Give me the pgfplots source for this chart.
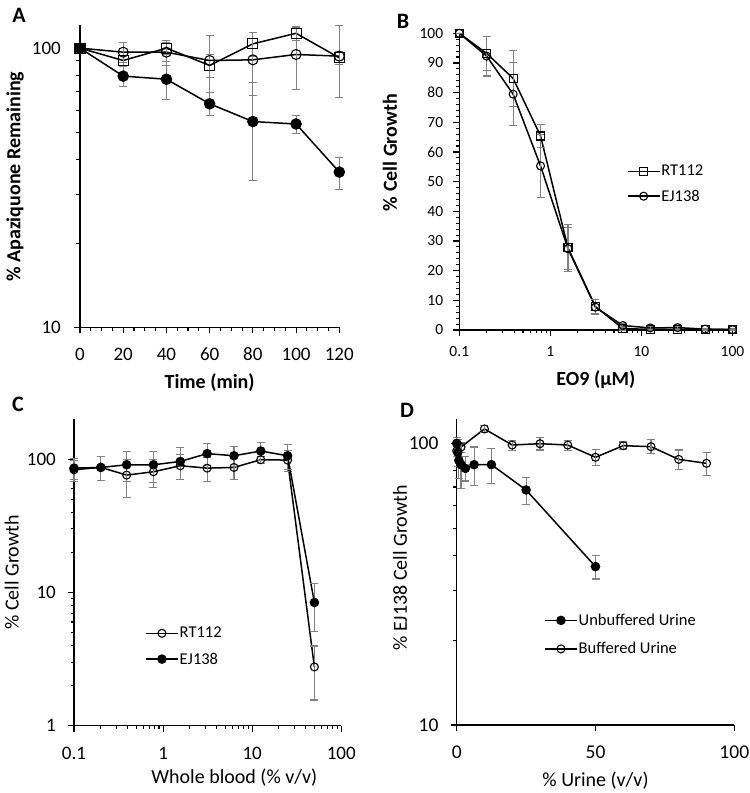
\documentclass[border=0pt]{standalone}
\usepackage{pgfplots}
\pgfplotsset{compat=1.18}
\usepackage{pgfplotstable}
\usepackage{fontspec}
\setmainfont{Carlito}
\definecolor{errgray}{RGB}{128,128,128}

% ---------------- Panel A ----------------
\pgfplotstableread{
x y e
0 100 0
20 90.3 4
40 100 5
60 86.7 8
80 103.6 10
100 113 6.5
120 92.3 5
}\Asq
\pgfplotstableread{
x y e
0 100 0
20 96.7 8
40 96.7 10
60 90.3 21
80 90.8 23
100 94.9 24
120 93.6 27
}\Aoc
\pgfplotstableread{
x y e
0 100 0
20 79.4 6.5
40 77.4 12
60 63.2 6
80 54.6 21
100 53.5 4
120 36 4.7
}\Afc
% ---------------- Panel B ----------------
\pgfplotstableread{
x y e
0.1 100 0
0.2 93.2 5.7
0.39 84.8 9.5
0.78 65.4 4
1.56 27.7 8
3.125 7.9 2.5
6.25 0.5 0.5
12.5 0.2 0.3
25 0.2 0.3
50 0.2 0.2
100 0.2 0.2
}\Bsq
\pgfplotstableread{
x y e
0.1 100 0
0.2 92.3 6.7
0.39 79.5 10.6
0.78 55.3 10.7
1.56 27.4 7
3.125 7.7 2.5
6.25 1.5 0.8
12.5 0.7 0.5
25 0.8 0.5
50 0.3 0.3
100 0.1 0.2
}\Bci
% ---------------- Panel C ----------------
\pgfplotstableread{
x y e
0.1 83.2 15
0.2 86.7 18
0.39 75.9 24
0.78 80.4 19
1.56 89.2 19
3.125 85.6 18
6.25 86.6 16
12.5 99 6
25 98.3 17
50 2.76 1.2
}\Crt
\pgfplotstableread{
x y e
0.1 85.6 15
0.2 86.6 18
0.39 90.7 23
0.78 90.7 24
1.56 96 26
3.125 110 21
6.25 106 18
12.5 115 18
25 106 23
50 8.4 3.3
}\Cej
% ---------------- Panel D ----------------
\pgfplotstableread{
x y e
0 100 5
0.39 93 10
0.78 87 12
1.56 84 15
3.125 81.5 8
6.25 84 13
12.5 84 12
25 68.3 7.5
50 36.5 3.5
}\Dun
\pgfplotstableread{
x y e
0 94 4
1.56 97 4
10 112.5 3
20 98.6 4
30 99.7 5
40 98.6 4
50 89.2 6
60 98.1 3
70 97.3 5.5
80 87.7 7
90 84.9 8
}\Dbu

\pgfplotsset{
  panel/.style={
    scale only axis, anchor=south west, clip=false,
    axis lines=left, axis line style={-, line width=1.5pt, black},
    tick align=outside,
    tick style={black, line width=1.1pt},
    major tick length=6pt, minor tick length=3.5pt,
    /pgf/number format/assume math mode=true,
    ticklabel style={inner sep=0pt},
    legend cell align=left,
    legend image code/.code={\draw[mark repeat=2,mark phase=2,##1] plot coordinates {(0pt,0pt) (16pt,0pt) (32pt,0pt)};},
  },
  ser/.style={black, line width=1.5pt, mark options={solid, line width=1.1pt, black}},
  eb/.style={error bars/y dir=both, error bars/y explicit,
    error bars/error mark=-,
    error bars/error bar style={errgray, line width=1.1pt},
    error bars/error mark options={rotate=90, errgray, line width=1.1pt, mark size=4pt}},
}

\begin{document}
\begin{tikzpicture}
\useasboundingbox (0pt,0pt) rectangle (750pt,793pt);

% Panel letters
\node[font=\bfseries\fontsize{22}{22}\selectfont] at (19pt,778pt) {A};
\node[font=\bfseries\fontsize{22}{22}\selectfont] at (403pt,771.3pt) {B};
\node[font=\bfseries\fontsize{22}{22}\selectfont] at (18pt,389pt) {C};
\node[font=\bfseries\fontsize{22}{22}\selectfont] at (407pt,383pt) {D};

% ---------------- A ----------------
\begin{axis}[panel,
  at={(80pt,465.5pt)}, width=259.3pt, height=302.5pt,
  xmin=0, xmax=120, ymode=log, ymin=10, ymax=121,
  xtick={0,20,...,120}, minor x tick num=3,
  ytick={10,100}, yticklabels={10,100},
  minor ytick={20,30,40,50,60,70,80,90},
  ticklabel style={font=\fontsize{19}{19}\selectfont},
  yticklabel style={anchor=east, xshift=-13pt},
  xticklabel style={anchor=center, yshift=-21pt},
  xlabel={Time (min)}, ylabel={\% Apaziquone Remaining},
  xlabel style={font=\bfseries\fontsize{20}{20}\selectfont, at={(axis description cs:0.5,-0.1835)}, anchor=center},
  ylabel style={font=\bfseries\fontsize{20}{20}\selectfont, at={(axis description cs:-0.2507,0.4985)}, anchor=center},
]
\addplot[ser, mark=square, mark size=5pt, eb] table[x=x,y=y,y error=e]{\Asq};
\addplot[ser, mark=o, mark size=5pt, eb] table[x=x,y=y,y error=e]{\Aoc};
\addplot[ser, mark=*, mark size=5pt, mark options={fill=black}, eb] table[x=x,y=y,y error=e]{\Afc};
\end{axis}

% ---------------- B ----------------
\begin{axis}[panel,
  at={(459.3pt,463pt)}, width=273.2pt, height=296.7pt,
  xmode=log, xmin=0.1, xmax=100, ymin=0, ymax=100,
  xtick={0.1,1,10,100}, xticklabels={0.1,1,10,100},
  minor xtick={0.2,0.3,0.4,0.5,0.6,0.7,0.8,0.9,2,3,4,5,6,7,8,9,20,30,40,50,60,70,80,90},
  ytick={0,10,...,100}, minor y tick num=4,
  ticklabel style={font=\fontsize{15.5}{15.5}\selectfont},
  yticklabel style={anchor=east, xshift=-10pt},
  xticklabel style={anchor=center, yshift=-16pt},
  xlabel={EO9 (μM)}, ylabel={\% Cell Growth},
  xlabel style={font=\bfseries\fontsize{20}{20}\selectfont, at={(axis description cs:0.5,-0.1685)}, anchor=center},
  ylabel style={font=\bfseries\fontsize{20}{20}\selectfont, at={(axis description cs:-0.2537,0.598)}, anchor=center},
  legend style={draw=none, fill=none, at={(axis description cs:0.6127,0.5595)}, anchor=north west,
    font=\fontsize{16.5}{16.5}\selectfont, inner sep=0pt, row sep=10.4pt, nodes={inner sep=1pt}},
]
\addplot[ser, mark=square, mark size=4pt, eb] table[x=x,y=y,y error=e]{\Bsq};
\addlegendentry{RT112}
\addplot[ser, mark=o, mark size=4pt, eb] table[x=x,y=y,y error=e]{\Bci};
\addlegendentry{EJ138}
\end{axis}

% ---------------- C ----------------
\begin{axis}[panel,
  at={(74pt,67.3pt)}, width=267.2pt, height=306.7pt,
  xmode=log, xmin=0.1, xmax=100, ymode=log, ymin=1, ymax=200,
  xtick={0.1,1,10,100}, xticklabels={0.1,1,10,100},
  minor xtick={0.2,0.3,0.4,0.5,0.6,0.7,0.8,0.9,2,3,4,5,6,7,8,9,20,30,40,50,60,70,80,90},
  ytick={1,10,100}, yticklabels={1,10,100},
  minor ytick={2,3,4,5,6,7,8,9,20,30,40,50,60,70,80,90},
  ticklabel style={font=\fontsize{19}{19}\selectfont},
  yticklabel style={anchor=east, xshift=-12pt},
  xticklabel style={anchor=center, yshift=-21.6pt},
  xlabel={Whole blood (\% v/v)}, ylabel={\% Cell Growth},
  xlabel style={font=\fontsize{20}{20}\selectfont, at={(axis description cs:0.600,-0.168)}, anchor=center},
  ylabel style={font=\fontsize{20}{20}\selectfont, at={(axis description cs:-0.233,0.5)}, anchor=center},
  legend style={draw=none, fill=none, at={(axis description cs:0.2657,0.325)}, anchor=north west,
    font=\fontsize{16.5}{16.5}\selectfont, inner sep=0pt, row sep=11.3pt, nodes={inner sep=1pt}},
]
\addplot[ser, mark=o, mark size=4pt, eb] table[x=x,y=y,y error=e]{\Crt};
\addlegendentry{RT112}
\addplot[ser, mark=*, mark size=4pt, mark options={fill=black}, eb] table[x=x,y=y,y error=e]{\Cej};
\addlegendentry{EJ138}
\end{axis}

% ---------------- D ----------------
\begin{axis}[panel,
  at={(456.7pt,68pt)}, width=277.6pt, height=306pt,
  xmin=0, xmax=100, ymode=log, ymin=10, ymax=122,
  xtick={0,50,100},
  ytick={10,100}, yticklabels={10,100},
  minor ytick={20,30,40,50,60,70,80,90},
  ticklabel style={font=\fontsize{19.5}{19.5}\selectfont},
  yticklabel style={anchor=east, xshift=-12pt},
  xticklabel style={anchor=center, yshift=-21.7pt},
  xlabel={\% Urine (v/v)}, ylabel={\% EJ138 Cell Growth},
  xlabel style={font=\fontsize{20}{20}\selectfont, at={(axis description cs:0.5,-0.183)}, anchor=center},
  ylabel style={font=\fontsize{20}{20}\selectfont, at={(axis description cs:-0.204,0.513)}, anchor=center},
  legend style={draw=none, fill=none, at={(axis description cs:0.3145,0.367)}, anchor=north west,
    font=\fontsize{16.5}{16.5}\selectfont, inner sep=0pt, row sep=13.6pt, nodes={inner sep=1pt}},
]
\addplot[ser, mark=*, mark size=4pt, mark options={fill=black}, eb] table[x=x,y=y,y error=e]{\Dun};
\addlegendentry{Unbuffered Urine}
\addplot[ser, mark=o, mark size=4pt, eb] table[x=x,y=y,y error=e]{\Dbu};
\addlegendentry{Buffered Urine}
\end{axis}
\end{tikzpicture}
\end{document}
